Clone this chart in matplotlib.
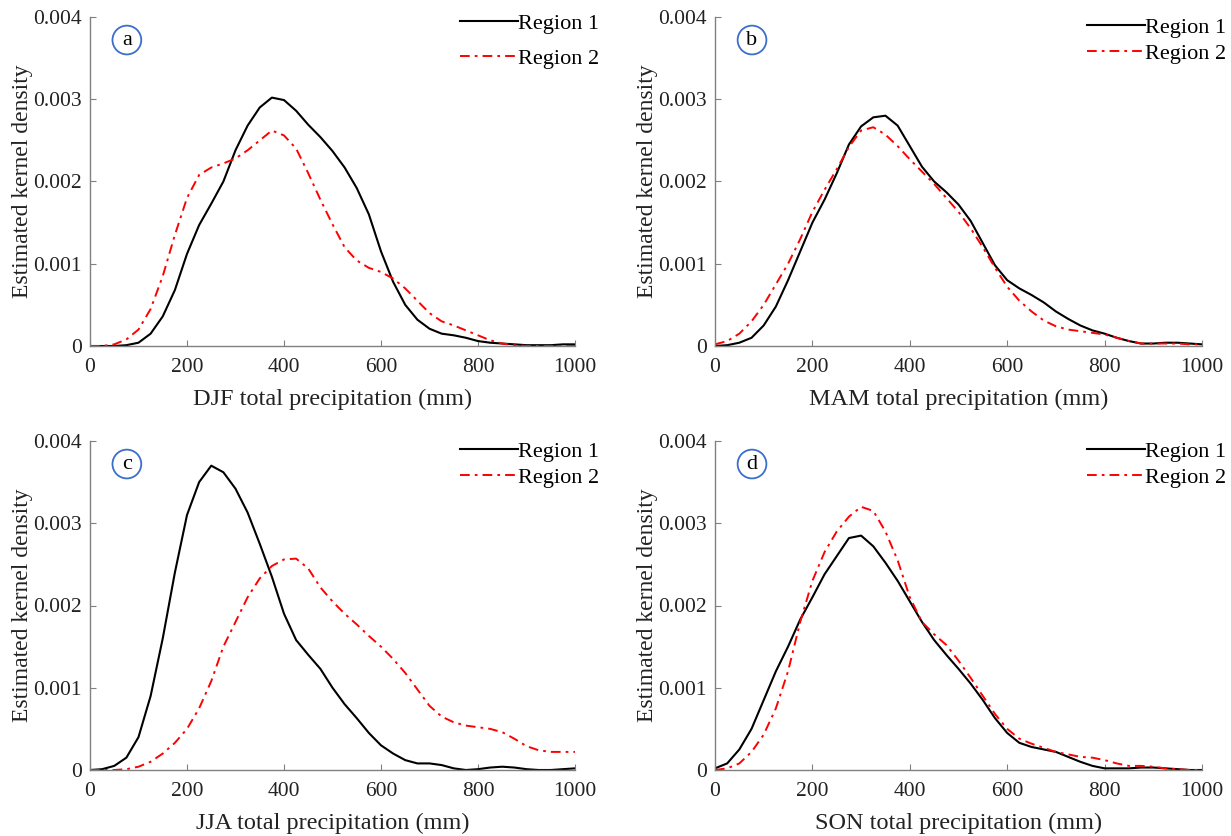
import numpy as np
import matplotlib
matplotlib.use('Agg')
import matplotlib.pyplot as plt

matplotlib.rcParams['font.family'] = ['Liberation Serif', 'DejaVu Serif']
matplotlib.rcParams['font.size'] = 16

# precipitation grid (mm), values read every 25 mm
precip_mm = list(range(0, 1001, 25))

djf_r1 = [0, 0, 0, 0.00001, 0.00004, 0.00015, 0.00036, 0.00068,
          0.00112, 0.00147, 0.00173, 0.00200, 0.00238, 0.00268, 0.00290, 0.00302,
          0.00299, 0.00286, 0.00269, 0.00254, 0.00237, 0.00217, 0.00192, 0.00160,
          0.00115, 0.00078, 0.00050, 0.00032, 0.00021, 0.00015, 0.00013, 0.00010,
          0.00006, 0.00004, 0.00003, 0.00002, 0.00001, 0.00001, 0.00001, 0.00002,
          0.00002]
djf_r2 = [0, 0, 0.00002, 0.00008, 0.00020, 0.00045, 0.00085, 0.00135,
          0.00180, 0.00208, 0.00217, 0.00222, 0.00228, 0.00238, 0.00250, 0.00262,
          0.00256, 0.00240, 0.00210, 0.00178, 0.00148, 0.00120, 0.00104, 0.00095,
          0.00090, 0.00082, 0.00070, 0.00055, 0.00040, 0.00030, 0.00025, 0.00019,
          0.00013, 0.00007, 0.00003, 0.00001, 0, 0, 0, 0,
          0]
mam_r1 = [0, 0.00001, 0.00004, 0.00010, 0.00025, 0.00048, 0.00080, 0.00115,
          0.00150, 0.00178, 0.00210, 0.00245, 0.00267, 0.00278, 0.00280, 0.00268,
          0.00243, 0.00218, 0.00200, 0.00187, 0.00172, 0.00152, 0.00125, 0.00098,
          0.00080, 0.00070, 0.00062, 0.00053, 0.00042, 0.00033, 0.00025, 0.00019,
          0.00015, 0.00010, 0.00006, 0.00003, 0.00003, 0.00004, 0.00004, 0.00003,
          0.00002]
mam_r2 = [0.00002, 0.00006, 0.00015, 0.00030, 0.00050, 0.00075, 0.00100, 0.00130,
          0.00163, 0.00190, 0.00215, 0.00242, 0.00262, 0.00266, 0.00257, 0.00243,
          0.00227, 0.00212, 0.00197, 0.00180, 0.00163, 0.00143, 0.00120, 0.00095,
          0.00072, 0.00055, 0.00042, 0.00031, 0.00024, 0.00020, 0.00018, 0.00016,
          0.00014, 0.00010, 0.00006, 0.00003, 0.00003, 0.00003, 0.00003, 0.00002,
          0.00002]
jja_r1 = [0, 0.00001, 0.00005, 0.00015, 0.00040, 0.00090, 0.00160, 0.00240,
          0.00310, 0.00350, 0.00370, 0.00362, 0.00342, 0.00313, 0.00275, 0.00235,
          0.00190, 0.00158, 0.00140, 0.00123, 0.00100, 0.00080, 0.00063, 0.00045,
          0.00030, 0.00020, 0.00012, 0.00008, 0.00008, 0.00006, 0.00002, 0,
          0.00001, 0.00003, 0.00004, 0.00003, 0.00001, 0, 0, 0.00001,
          0.00002]
jja_r2 = [0, 0, 0, 0.00001, 0.00004, 0.00010, 0.00020, 0.00033,
          0.00050, 0.00075, 0.00108, 0.00150, 0.00180, 0.00210, 0.00233, 0.00248,
          0.00256, 0.00257, 0.00245, 0.00222, 0.00205, 0.00190, 0.00177, 0.00163,
          0.00150, 0.00135, 0.00118, 0.00098, 0.00078, 0.00065, 0.00058, 0.00054,
          0.00052, 0.00050, 0.00046, 0.00038, 0.00029, 0.00024, 0.00022, 0.00022,
          0.00022]
son_r1 = [0.00002, 0.00008, 0.00025, 0.00050, 0.00085, 0.00120, 0.00150, 0.00183,
          0.00210, 0.00238, 0.00260, 0.00282, 0.00285, 0.00272, 0.00252, 0.00230,
          0.00205, 0.00180, 0.00158, 0.00140, 0.00123, 0.00105, 0.00085, 0.00063,
          0.00045, 0.00033, 0.00028, 0.00025, 0.00022, 0.00016, 0.00010, 0.00005,
          0.00002, 0.00002, 0.00002, 0.00003, 0.00003, 0.00002, 0.00001, 0,
          0]
son_r2 = [0, 0.00002, 0.00008, 0.00022, 0.00043, 0.00075, 0.00120, 0.00180,
          0.00230, 0.00265, 0.00290, 0.00308, 0.00320, 0.00315, 0.00290, 0.00255,
          0.00210, 0.00180, 0.00165, 0.00152, 0.00133, 0.00112, 0.00090, 0.00068,
          0.00050, 0.00038, 0.00032, 0.00027, 0.00022, 0.00019, 0.00016, 0.00015,
          0.00012, 0.00008, 0.00005, 0.00005, 0.00004, 0.00002, 0.00001, 0,
          0]

seasons = ['DJF', 'MAM', 'JJA', 'SON']
panel_letters = ['a', 'b', 'c', 'd']
region1 = [djf_r1, mam_r1, jja_r1, son_r1]
region2 = [djf_r2, mam_r2, jja_r2, son_r2]
x_ticks = [0, 200, 400, 600, 800, 1000]
y_ticks = [0, 0.001, 0.002, 0.003, 0.004]
y_tick_labels = ['0', '0.001', '0.002', '0.003', '0.004']

W, H = 1231, 836
fig = plt.figure(figsize=(W / 100, H / 100), dpi=100)

# axes boxes in pixels: left, top, right, bottom
boxes = [(90, 17, 575, 346), (715, 17, 1202, 346),
         (90, 441, 575, 770), (715, 441, 1202, 770)]
# legend placement differs a bit between panels
label_spacing = [0.68, 0.26, 0.26, 0.26]
legend_top = [1.012, 1.0, 1.0, 1.0]

for i in range(4):
    l, t, r, b = boxes[i]
    ax = fig.add_axes([l / W, 1 - b / H, (r - l) / W, (b - t) / H])

    ax.plot(precip_mm, region1[i], color='black', linewidth=1.5,
            label='Region 1', solid_joinstyle='round')
    ax.plot(precip_mm, region2[i], color='red', linewidth=1.4,
            linestyle=(0, (5.0, 2.6, 1.4, 2.6)), label='Region 2')

    ax.set_xlim(0, 1000)
    ax.set_ylim(0, 0.004)
    ax.set_xticks(x_ticks)
    ax.set_yticks(y_ticks)
    ax.set_yticklabels(y_tick_labels)
    ax.tick_params(direction='in', length=4, color='#808080', labelsize=15.5,
                   labelcolor='#222222')
    ax.tick_params(axis='x', pad=9)
    ax.tick_params(axis='y', pad=6)
    for side in ['top', 'right']:
        ax.spines[side].set_visible(False)
    for side in ['left', 'bottom']:
        ax.spines[side].set_color('#808080')
        ax.spines[side].set_linewidth(1.0)

    ax.set_xlabel(seasons[i] + ' total precipitation (mm)', fontsize=17.5,
                  color='#222222', labelpad=8)
    ax.set_ylabel('Estimated kernel density', fontsize=17, color='#222222',
                  labelpad=0)

    ax.text(76, 0.00372, panel_letters[i], fontsize=16, ha='center',
            va='center',
            bbox=dict(boxstyle='circle,pad=0.22', fc='white', ec='#3b6fc9',
                      lw=1.3))

    ax.legend(loc='upper right', bbox_to_anchor=(1.05, legend_top[i]),
              frameon=False, fontsize=16, handlelength=2.6,
              handletextpad=0.0, labelspacing=label_spacing[i], borderpad=0,
              borderaxespad=0)

fig.savefig('out.png', dpi=100)
